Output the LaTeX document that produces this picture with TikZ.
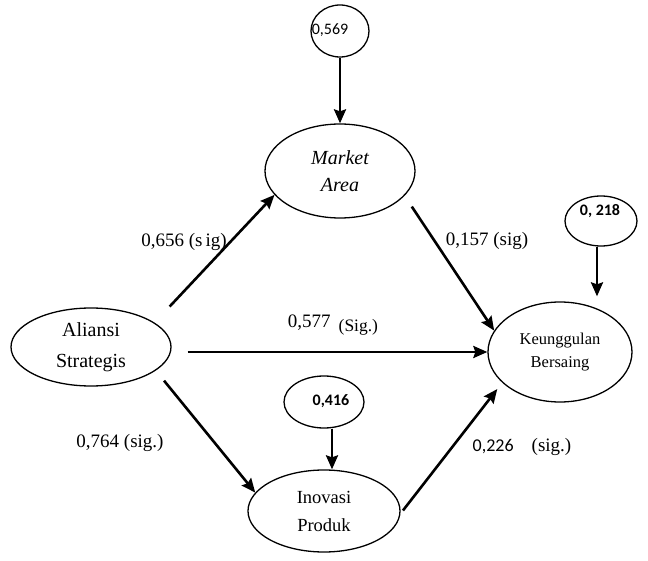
\documentclass[tikz,border=0pt]{standalone}
\usepackage{fontspec}
\setmainfont{Liberation Serif}
\newfontfamily\calfont{Carlito}
\usetikzlibrary{shapes.geometric,arrows.meta}
\begin{document}
\begin{tikzpicture}[x=1pt,y=1pt,
  ell/.style={draw,ellipse,line width=1.3pt,inner sep=0pt,align=center},
  arr/.style={line width=2.6pt,-{Stealth[length=14pt,width=12pt,inset=2pt]}},
  lbl/.style={inner sep=0pt,font=\fontsize{19}{19}\selectfont},
  sml/.style={inner sep=0pt,font=\calfont\fontsize{16}{16}\selectfont}]
\useasboundingbox (0,0) rectangle (648,560);
% error-term ellipses
\node[ell,minimum width=58,minimum height=52,
  label={[sml,xshift=-10pt,yshift=1pt]center:{0,569}}] (e569) at (340,529) {};
\node[ell,minimum width=72,minimum height=50,
  label={[sml,xshift=-1pt,yshift=10pt]center:{\bfseries 0, 218}}] (e218) at (601,339) {};
\node[ell,minimum width=80,minimum height=52,
  label={[sml,xshift=7pt,yshift=1pt]center:{\bfseries 0,416}}] (e416) at (324,158) {};
% constructs
\node[ell,minimum width=150,minimum height=94,
  font=\itshape\fontsize{20}{27}\selectfont] (ma) at (340,389) {Market\\Area};
\node[ell,minimum width=160,minimum height=78,
  font=\fontsize{20}{31}\selectfont] (al) at (91,213) {Aliansi\\Strategis};
\node[ell,minimum width=144,minimum height=100,
  font=\fontsize{16.5}{23}\selectfont] (kb) at (560,208) {Keunggulan\\Bersaing};
\node[ell,minimum width=152,minimum height=82,
  font=\fontsize{18.5}{28}\selectfont] (ip) at (324,49) {Inovasi\\Produk};
% connectors
\draw[arr] (e569.south) -- (ma.north);
\draw[arr,shorten >=5pt] ([xshift=-4pt]e218.south) -- ([xshift=-4pt]e218.south |- kb.north);
\draw[arr] ([xshift=8pt]e416.south) -- ([xshift=8pt]e416.south |- ip.north);
\draw[arr,shorten <=22pt] (al.21) -- (ma.200);
\draw[arr,shorten <=13pt] (ma.-21) -- (kb.162);
\draw[arr,shorten <=16pt] (al.east |- kb.west) -- (kb.west);
\draw[arr,shorten <=13pt] (al.-20) -- (ip.165);
\draw[arr,shorten <=4pt,shorten >=8pt] (ip.-2) -- (kb.208);
% path labels
\node[lbl] (l656) at (184,318) {0,656 (s\,ig)};
\node[lbl] (l157) at (487,319) {0,157 (sig)};
\node[lbl] (l577) at (333,235) {0,577\hspace{8pt}\raisebox{-4pt}{\fontsize{17.5}{17.5}\selectfont(Sig.)}};
\node[lbl] (l764) at (120,117) {0,764 (sig.)};
\node[lbl] (l226) at (522,113) {{\calfont\fontsize{18}{18}\selectfont 0,226}\hspace{18pt}(sig.)};
\end{tikzpicture}
\end{document}
